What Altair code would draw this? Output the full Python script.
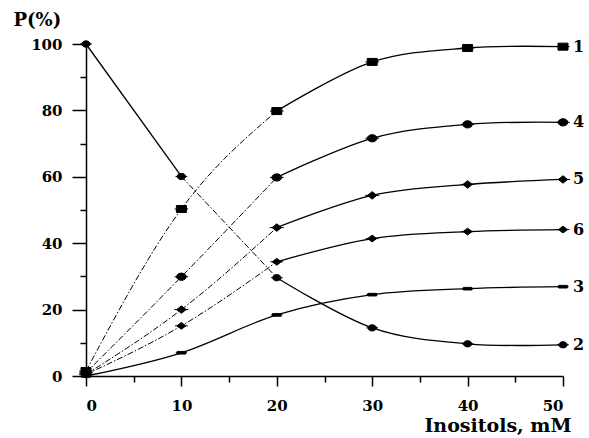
import altair as alt
import pandas as pd

# ---- data ----
x_conc = [0, 10, 20, 30, 40, 50]
s1 = [1.5, 50.3, 79.8, 94.6, 98.8, 99.2]
s4 = [1.0, 29.9, 59.8, 71.6, 75.8, 76.4]
s5 = [0.5, 20.0, 44.7, 54.4, 57.7, 59.2]
s6 = [0.5, 15.1, 34.4, 41.4, 43.5, 44.1]
s3 = [0.0, 7.0, 18.4, 24.5, 26.3, 26.9]
s2 = [100.0, 60.1, 29.6, 14.5, 9.7, 9.4]
series_names = ["1", "4", "5", "6", "3", "2"]
series_values = [s1, s4, s5, s6, s3, s2]
# x range of each curve drawn with a broken (dash-dot) line
dashed_ranges = {"1": (0, 20), "4": (0, 20), "5": (0, 20), "6": (0, 20), "3": None, "2": (10, 20)}

y_all = list(range(0, 101, 10))
x_all = list(range(0, 51, 5))

# ---- build tables ----
pts = []
for name, vals in zip(series_names, series_values):
    for xv, yv in zip(x_conc, vals):
        pts.append({"series": name, "x": xv, "y": yv})
pts_df = pd.DataFrame(pts)

seg_rows = []
for name, vals in zip(series_names, series_values):
    rng = dashed_ranges[name]
    if rng is None:
        segs = [(0, 50, "solid")]
    else:
        a, b = rng
        segs = []
        if a > 0:
            segs.append((0, a, "solid"))
        segs.append((a, b, "dash"))
        if b < 50:
            segs.append((b, 50, "solid"))
    for i, (lo, hi, style) in enumerate(segs):
        for xv, yv in zip(x_conc, vals):
            if lo <= xv <= hi:
                seg_rows.append({"series": name, "seg": f"{name}_{i}", "style": style, "x": xv, "y": yv})
seg_df = pd.DataFrame(seg_rows)

lab_df = pd.DataFrame({"series": series_names, "x": [x_conc[-1]] * 6, "y": [v[-1] for v in series_values]})

FONT = "DejaVu Serif"

xscale = alt.Scale(domain=[0, 50], nice=False, zero=False)
yscale = alt.Scale(domain=[0, 100], nice=False)

x_axis = alt.Axis(
    values=x_all,
    labelExpr="datum.value % 10 == 0 ? datum.label : ''",
    tickSize={"condition": {"test": "datum.value % 10 == 0", "value": 10}, "value": 6},
    labelPadding=12,
    title="Inositols, mM",
    titleX=485, titleY=49, titleAlign="right", titleBaseline="middle",
    titleFontSize=19,
)
y_axis = alt.Axis(
    values=y_all,
    labelExpr="datum.value % 20 == 0 ? datum.label : ''",
    tickSize={"condition": {"test": "datum.value % 20 == 0", "value": 14}, "value": 6},
    labelPadding=10,
    title="P(%)",
    titleAngle=0, titleX=-73, titleY=-24, titleAlign="left", titleBaseline="middle",
    titleFontSize=18,
)

base_x = alt.X("x:Q", scale=xscale, axis=x_axis)
base_y = alt.Y("y:Q", scale=yscale, axis=y_axis)

solid = alt.Chart(seg_df).transform_filter("datum.style == 'solid'").mark_line(
    color="black", strokeWidth=1.3, interpolate="cardinal"
).encode(x=base_x, y=base_y, detail="seg:N")

dashed = alt.Chart(seg_df).transform_filter("datum.style == 'dash'").mark_line(
    color="black", strokeWidth=1, strokeDash=[6, 2, 1.5, 2], interpolate="monotone"
).encode(x=base_x, y=base_y, detail="seg:N")

shapes = [
    "M-1.35,0L1.35,0M-1,-0.7L1,-0.7L1,0.7L-1,0.7Z",           # 1 square
    "M-1.4,0L1.4,0M-1,0A1,0.75 0 1,0 1,0A1,0.75 0 1,0 -1,0Z",  # 4 circle
    "M-1.5,0L1.5,0M-1,0L0,-0.8L1,0L0,0.8Z",                   # 5 plus-like
    "M-1.4,0L1.4,0M-1,0L0,-0.75L1,0L0,0.75Z",                 # 6 diamond
    "M-1.3,0L1.3,0M-1,-0.3L1,-0.3L1,0.3L-1,0.3Z",             # 3 dash
    "M-1.4,0L1.4,0M-1,0A1,0.75 0 1,0 1,0A1,0.75 0 1,0 -1,0Z",  # 2 circle
]
sizes = [100, 70, 45, 55, 60, 75]

points = alt.Chart(pts_df).mark_point(
    filled=True, color="black", stroke="black", strokeWidth=1, opacity=1
).encode(
    x=base_x, y=base_y,
    shape=alt.Shape("series:N", scale=alt.Scale(domain=series_names, range=shapes), legend=None),
    size=alt.Size("series:N", scale=alt.Scale(domain=series_names, range=sizes), legend=None),
)

labels = alt.Chart(lab_df).mark_text(
    align="left", baseline="middle", dx=10, font=FONT, fontSize=16, fontWeight="bold", color="black"
).encode(x=base_x, y=base_y, text="series:N")

chart = (
    alt.layer(dashed, solid, points, labels)
    .properties(width=477, height=332, autosize=alt.AutoSizeParams(type="none"),
                padding={"left": 86, "top": 44, "right": 26, "bottom": 62},
                background="white")
    .configure_view(stroke=None)
    .configure_axis(
        grid=False, domainColor="black", domainWidth=1.5, tickColor="black", tickWidth=1.5,
        labelColor="black", labelFont=FONT, labelFontWeight="bold", labelFontSize=15,
        titleColor="black", titleFont=FONT, titleFontWeight="bold",
        labelOverlap=False,
    )
)

chart.save("out.html", embed_options={"renderer": "svg", "actions": False})
